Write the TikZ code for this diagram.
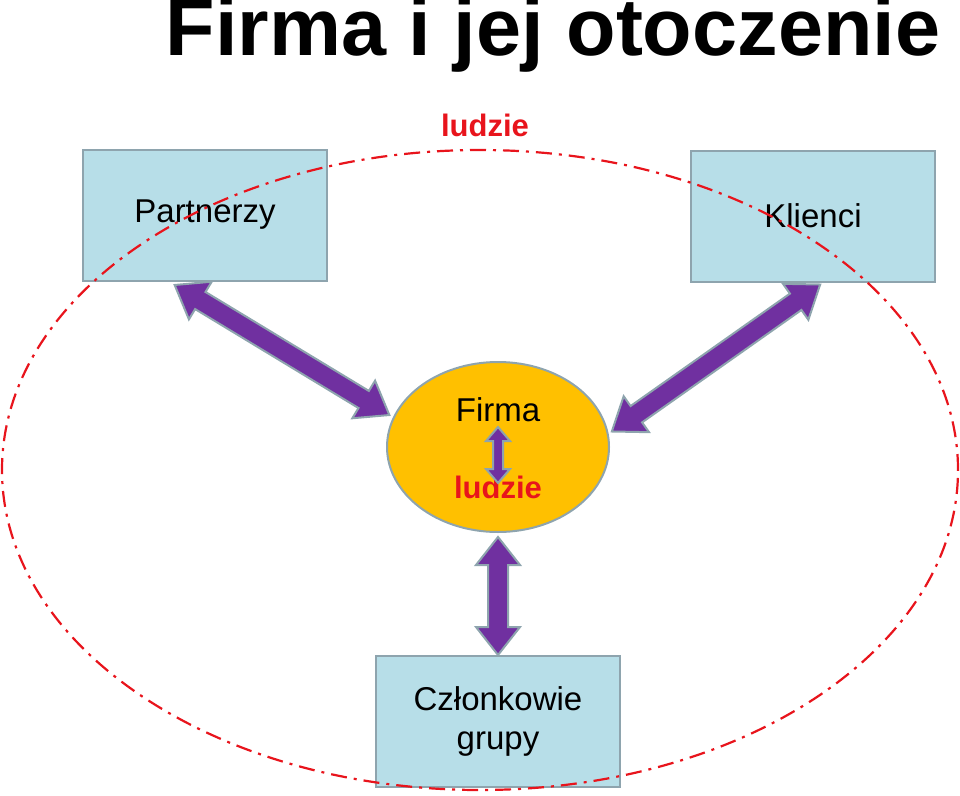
\documentclass[tikz,border=0pt]{standalone}
\usepackage{fontspec}
\setmainfont{Liberation Sans}
\usetikzlibrary{shapes.geometric}
\definecolor{boxfill}{HTML}{B7DEE8}
\definecolor{boxline}{HTML}{8EA4AE}
\definecolor{firmfill}{HTML}{FFC000}
\definecolor{purp}{HTML}{7030A0}
\definecolor{redd}{HTML}{E8141C}
\tikzset{
 box/.style={draw=boxline,line width=2pt,fill=boxfill,minimum width=244pt,minimum height=131pt,font=\fontsize{33}{39}\selectfont,align=center},
 fatline/.style={draw=boxline,line width=2pt,fill=purp},
}
\newcommand{\fatarr}[6]{% center, angle, length, shaft half, head half, head length
\begin{scope}[shift={(#1)},rotate=#2]
\pgfmathsetmacro\La{#3/2}\pgfmathsetmacro\Lb{#3/2-#6}
\draw[fatline] (-\La,0) -- (-\Lb,#5) -- (-\Lb,#4) -- (\Lb,#4) -- (\Lb,#5) -- (\La,0) -- (\Lb,-#5) -- (\Lb,-#4) -- (-\Lb,-#4) -- (-\Lb,-#5) -- cycle;
\end{scope}}
\begin{document}
\begin{tikzpicture}[x=1pt,y=-1pt]
\useasboundingbox (0,0) rectangle (960,795);
\node (title) at (553,35) {\fontsize{81}{88}\selectfont\bfseries Firma i jej otoczenie};
\node[text=redd] (ltop) at (485,125) {\fontsize{31}{36}\selectfont\bfseries ludzie};
\node[box] (p) at (205,215) {Partnerzy};
\node[box] (k) at (813,216) {Klienci};
\node[box,font=\fontsize{33}{39}\selectfont] (c) at (498,721) {Członkowie\\grupy};
\draw[redd,line width=2.2pt,dash pattern=on 16pt off 7pt on 3pt off 7pt] (480,470) ellipse [x radius=478pt,y radius=320pt];
\node[draw=boxline,line width=2pt,fill=firmfill,ellipse,minimum width=222pt,minimum height=170pt] (f) at (498,447) {};
\node (ft) at (498,410) {\fontsize{33}{38}\selectfont Firma};
\node[text=redd] (fl) at (498,487) {\fontsize{31}{36}\selectfont\bfseries ludzie};
\coordinate (a1) at (282,350); \coordinate (a2) at (716,358); \coordinate (a3) at (498,596); \coordinate (a4) at (498,455);
\fatarr{a1}{-31.2}{251}{10}{22}{30}
\fatarr{a2}{35.2}{255}{10}{22}{30}
\fatarr{a3}{90}{118}{10}{22}{28}
\fatarr{a4}{90}{56}{5}{12}{14}
\end{tikzpicture}
\end{document}
